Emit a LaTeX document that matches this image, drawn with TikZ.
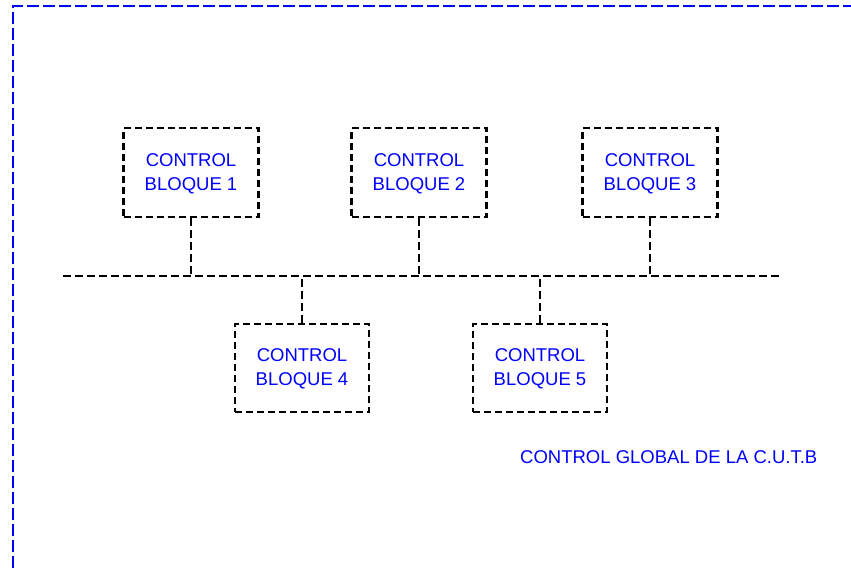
\documentclass[tikz,border=0pt]{standalone}
\usepackage{fontspec}
\setmainfont{Liberation Sans}
\begin{document}
\begin{tikzpicture}[x=1pt,y=-1pt,
  blockbox/.style={draw=black, line width=2.3pt, dash pattern=on 7pt off 4pt,
    minimum width=135pt, minimum height=89pt, inner sep=0pt},
  lowbox/.style={blockbox, line width=1.9pt, minimum width=134pt, minimum height=88pt},
  busline/.style={draw=black, line width=2pt, dash pattern=on 8pt off 4pt},
  frameline/.style={draw=blue, line width=2.2pt, dash pattern=on 12pt off 4pt},
  lbl/.style={text=blue, font=\fontsize{18.5}{24}\selectfont, inner sep=0pt}]
\useasboundingbox (0,0) rectangle (851,568);
% frame
\coordinate (fTL) at (13,6);
\coordinate (fTR) at (851,6);
\coordinate (fBL) at (13,568);
\draw[frameline] (fBL) -- (fTL) -- (fTR);
% blocks
\node[blockbox] (n1) at (191,172.5) {};
\node[blockbox] (n2) at (419,172.5) {};
\node[blockbox] (n3) at (650,172.5) {};
\node[lowbox] (n4) at (302,368) {};
\node[lowbox] (n5) at (540,368) {};
\node[lbl, align=center] (t1) at ([yshift=-1.5pt]n1.center) {CONTROL\\BLOQUE 1};
\node[lbl, align=center] (t2) at ([yshift=-1.5pt]n2.center) {CONTROL\\BLOQUE 2};
\node[lbl, align=center] (t3) at ([yshift=-1.5pt]n3.center) {CONTROL\\BLOQUE 3};
\node[lbl, align=center] (t4) at ([yshift=-0.5pt]n4.center) {CONTROL\\BLOQUE 4};
\node[lbl, align=center] (t5) at ([yshift=-0.5pt]n5.center) {CONTROL\\BLOQUE 5};
% bus
\coordinate (busL) at (63,276);
\coordinate (busR) at (781,276);
\draw[busline] (busL) -- (busR);
\coordinate (b1) at (191,276);
\coordinate (b2) at (419,276);
\coordinate (b3) at (650,276);
\coordinate (b4) at (302,276);
\coordinate (b5) at (540,276);
\draw[busline] (n1.south) -- (b1);
\draw[busline] (n2.south) -- (b2);
\draw[busline] (n3.south) -- (b3);
\draw[busline] (n4.north) -- (b4);
\draw[busline] (n5.north) -- (b5);
% label
\node[lbl, anchor=base west] (glob) at (520,463) {CONTROL GLOBAL DE LA C.U.T.B};
\end{tikzpicture}
\end{document}
